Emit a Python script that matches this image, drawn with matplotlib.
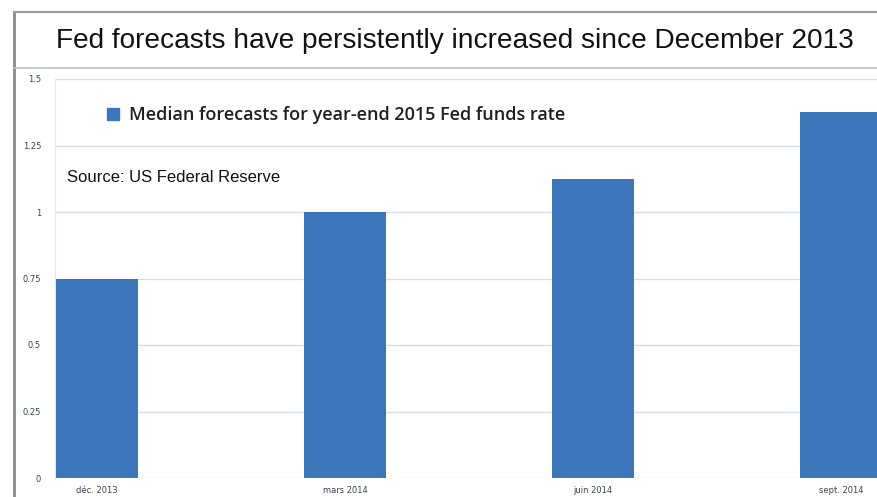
import matplotlib
matplotlib.use("Agg")
import matplotlib.pyplot as plt
from matplotlib.lines import Line2D
from matplotlib.patches import Patch

# data
months = ["déc. 2013", "mars 2014", "juin 2014", "sept. 2014"]
median_2015 = [0.75, 1.0, 1.125, 1.375]
y_ticks = [0, 0.25, 0.5, 0.75, 1, 1.25, 1.5]
y_tick_labels = ["0", "0.25", "0.5", "0.75", "1", "1.25", "1.5"]

BAR = "#3d77bb"
GRID = "#d6dde8"
TICK = "#3a4256"

fig = plt.figure(figsize=(8.77, 4.97), dpi=100)
fig.patch.set_facecolor("white")

# frame lines of the original slide
W, H = 877, 497
def fx(px): return px / W
def fy(py): return 1 - py / H

fig.add_artist(Line2D([fx(14), fx(14)], [fy(12), 0], color="#8a8a8a", lw=2.0))
fig.add_artist(Line2D([fx(14), 1], [fy(12), fy(12)], color="#9a9a9a", lw=1.5))
fig.add_artist(Line2D([fx(14), 1], [fy(68), fy(68)], color="#b9c3cf", lw=1.2))

fig.text(fx(455), fy(41), "Fed forecasts have persistently increased since December 2013",
         ha="center", va="center", fontsize=20.2,
         family=["Liberation Sans", "DejaVu Sans"], color="#111111")

ax = fig.add_axes([fx(55), fy(478), 1 - fx(55), fy(79) - fy(478)])
x = list(range(len(months)))
ax.bar(x, median_2015, width=0.33, color=BAR, zorder=3)
ax.set_xlim(-0.169, 3.145)
ax.set_ylim(0, 1.5)
ax.set_yticks(y_ticks)
ax.set_yticklabels(y_tick_labels)
ax.set_xticks(x)
ax.set_xticklabels(months)
ax.tick_params(length=0, labelsize=6, colors=TICK, pad=6)
ax.tick_params(axis="y", pad=10)
ax.grid(axis="y", color=GRID, lw=1.0, zorder=0)
for s in ("top", "right", "bottom"):
    ax.spines[s].set_visible(False)
ax.spines["left"].set_color("#e3e7ee")
ax.spines["left"].set_linewidth(0.8)

leg = fig.legend([Patch(color=BAR)], ["Median forecasts for year-end 2015 Fed funds rate"],
                 loc="center left", bbox_to_anchor=(fx(98), fy(115)),
                 frameon=False, borderpad=0, handlelength=0.65, handleheight=0.65,
                 handletextpad=0.55,
                 prop={"family": "Open Sans", "weight": "semibold", "size": 13})
for t in leg.get_texts():
    t.set_color("#1f1f1f")

fig.text(fx(67), fy(178), "Source: US Federal Reserve", ha="left", va="center",
         fontsize=12, family=["Liberation Sans", "DejaVu Sans"], color="#111111")

fig.savefig("out.png", dpi=100)
